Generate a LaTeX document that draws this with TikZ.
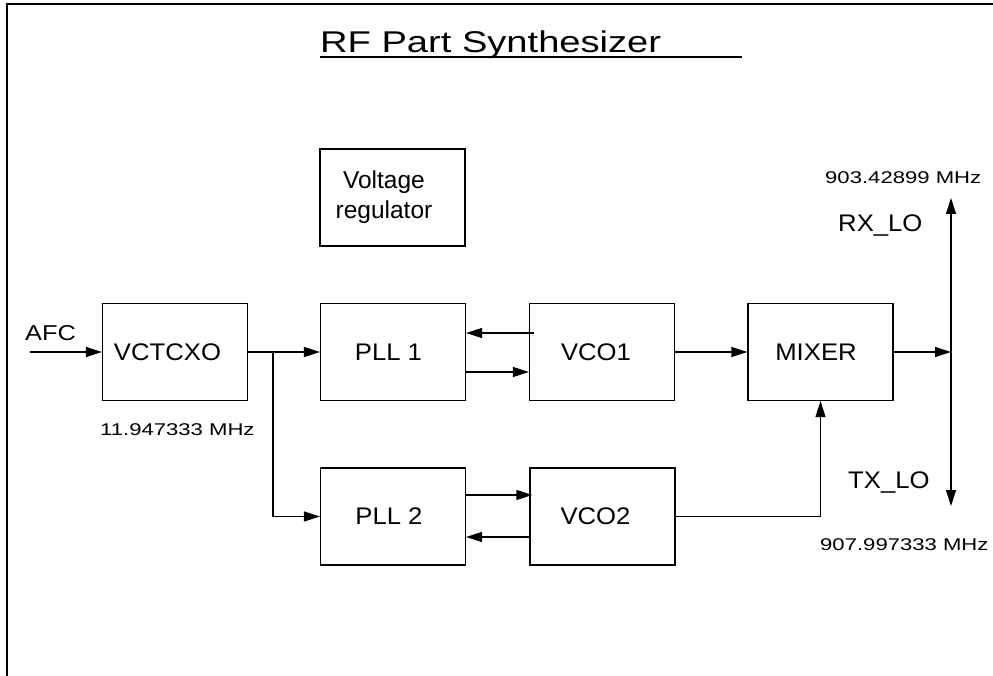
\documentclass[tikz,border=0pt]{standalone}
\usepackage{fontspec}
\setmainfont{Liberation Sans}
\usetikzlibrary{arrows.meta}
\begin{document}
\begin{tikzpicture}[x=1pt,y=-1pt,
  box/.style={draw, line width=1.2pt, minimum width=145pt, minimum height=97pt, inner sep=0pt,
    font=\fontsize{24}{24}\selectfont\addfontfeature{FakeStretch=1.07}},
  conn/.style={line width=1.2pt},
  arr/.style={conn, -{Triangle[length=16pt,width=10pt]}},
  dblarr/.style={conn, {Triangle[length=16pt,width=10pt]}-{Triangle[length=16pt,width=10pt]}},
  bigtxt/.style={inner sep=0pt, anchor=base west, font=\fontsize{24}{24}\selectfont\addfontfeature{FakeStretch=1.07}},
  afctxt/.style={inner sep=0pt, anchor=base west, font=\fontsize{21.5}{21.5}\selectfont\addfontfeature{FakeStretch=1.18}},
  smalltxt/.style={inner sep=0pt, anchor=base west, font=\fontsize{17}{17}\selectfont\addfontfeature{FakeStretch=1.3}},
  titletxt/.style={inner sep=0pt, anchor=base west, font=\fontsize{30}{30}\selectfont\addfontfeature{FakeStretch=1.27}}
]
\useasboundingbox (0,0) rectangle (993,676);

% frame
\coordinate (fr1) at (7,676);
\coordinate (fr2) at (7,4);
\coordinate (fr3) at (993,4);
\draw[line width=1.5pt] (fr1) -- (fr2) -- (fr3);

% title
\node[titletxt] (title) at (320,53) {RF Part Synthesizer};
\coordinate (ulstart) at (320,57);
\coordinate (ulend) at (742,57);
\draw[line width=1.3pt] (ulstart) -- (ulend);

% boxes
\node[box, align=center, font=\fontsize{24.5}{30}\selectfont] (vreg) at (392.5,197.5)
  {\hspace*{-17pt}Voltage\\\hspace*{-17pt}regulator};
\node[box] (vctcxo) at (175,352) {\hspace*{-15pt}VCTCXO};
\node[box] (pll1) at (393,352) {\hspace*{-9pt}PLL 1};
\node[box] (vco1) at (602,352) {\hspace*{-12pt}VCO1};
\node[box] (mixer) at (820.5,352) {\hspace*{-9pt}MIXER};
\node[box] (pll2) at (393,516.5) {\hspace*{-8pt}PLL 2};
\node[box] (vco2) at (602.5,516.5) {\hspace*{-14pt}VCO2};

% labels
\node[afctxt] (afc) at (25,340) {AFC};
\node[smalltxt] (f1) at (100,435) {11.947333 MHz};
\node[smalltxt] (f2) at (825,184) {903.42899 MHz};
\node[bigtxt] (rx) at (838,232) {RX\_LO};
\node[bigtxt] (tx) at (848,488) {TX\_LO};
\node[smalltxt] (f3) at (820,550) {907.997333 MHz};

% connectors
\coordinate (afcin) at (30,352);
\draw[arr] (afcin) -- (vctcxo.west);
\draw[arr] (vctcxo.east) -- (pll1.west);
\coordinate (jn) at (273,352);
\draw[arr] (jn) |- (pll2.west);

\draw[arr] ([xshift=5pt,yshift=19pt]vco1.west) -- ([yshift=19pt]pll1.east);
\draw[arr] ([yshift=-20pt]pll1.east) -- ([yshift=-20pt]vco1.west);

\draw[arr] ([yshift=21.5pt]pll2.east) -- ([xshift=3pt,yshift=21.5pt]vco2.west);
\draw[arr] ([yshift=-20.5pt]vco2.west) -- ([yshift=-20.5pt]pll2.east);

\draw[arr] (vco1.east) -- (mixer.west);
\draw[arr] (vco2.east) -| (mixer.south);

\coordinate (lotop) at (951,198);
\coordinate (lobot) at (951,506);
\coordinate (lomid) at (951,352);
\draw[arr] (mixer.east) -- (lomid);
\draw[dblarr] (lotop) -- (lobot);
\end{tikzpicture}
\end{document}
